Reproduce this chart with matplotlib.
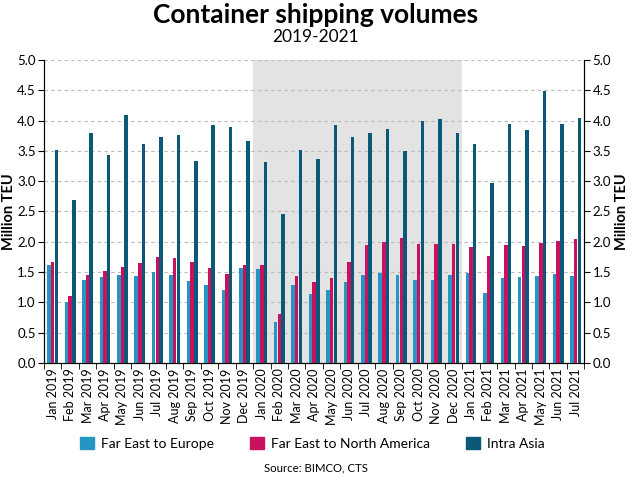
import numpy as np
import matplotlib.pyplot as plt
import matplotlib.patches as patches

plt.rcParams['font.family'] = ['Lato', 'DejaVu Sans']

months = ['Jan', 'Feb', 'Mar', 'Apr', 'May', 'Jun', 'Jul', 'Aug', 'Sep', 'Oct', 'Nov', 'Dec']
labels = [f'{m} {y}' for y in (2019, 2020) for m in months] + [f'{m} 2021' for m in months[:7]]

far_east_europe = [1.61, 1.00, 1.37, 1.42, 1.46, 1.44, 1.50, 1.45, 1.35, 1.28, 1.20, 1.56,
                   1.55, 0.67, 1.28, 1.14, 1.20, 1.33, 1.45, 1.48, 1.45, 1.37, 1.37, 1.45,
                   1.49, 1.16, 1.40, 1.42, 1.44, 1.47, 1.44]
far_east_na = [1.67, 1.11, 1.45, 1.52, 1.58, 1.65, 1.75, 1.73, 1.66, 1.57, 1.47, 1.62,
               1.62, 0.81, 1.44, 1.34, 1.40, 1.66, 1.94, 2.00, 2.06, 1.97, 1.97, 1.97,
               1.92, 1.77, 1.94, 1.93, 1.98, 2.02, 2.04]
intra_asia = [3.51, 2.69, 3.80, 3.43, 4.09, 3.61, 3.73, 3.76, 3.34, 3.93, 3.89, 3.66,
              3.31, 2.45, 3.51, 3.37, 3.92, 3.73, 3.79, 3.86, 3.49, 3.99, 4.03, 3.80,
              3.61, 2.97, 3.94, 3.85, 4.49, 3.94, 4.04]

colors = ['#2596c4', '#c8115f', '#0b5878']
names = ['Far East to Europe', 'Far East to North America', 'Intra Asia']

fig = plt.figure(figsize=(6.32, 4.78), dpi=100)
ax = fig.add_axes([0.0696, 0.2406, 0.855, 0.634])

x = np.arange(len(labels))
w = 0.2
# 2020 shading
ax.axvspan(11.5, 23.5, color='#e3e3e3', zorder=0, lw=0)

for off, vals, c in zip([-0.21, 0, 0.21], [far_east_europe, far_east_na, intra_asia], colors):
    ax.bar(x + off, vals, w, color=c, zorder=3)

yt = np.arange(0, 5.01, 0.5)
ax.set_xlim(-0.5, len(labels) - 0.5)
ax.set_ylim(0, 5)
ax.set_yticks(yt)
ax.set_yticklabels([f'{v:.1f}' for v in yt], fontsize=9.5)
ax.yaxis.grid(True, linestyle=(0, (3, 3)), color='#bbbbbb', lw=0.8, zorder=1)
ax.set_xticks(x)
ax.set_xticklabels(labels, rotation=90, fontsize=9)
ax.tick_params(axis='x', length=0, pad=4)
ax.set_xticks(np.arange(-0.5, len(labels), 1), minor=True)
ax.tick_params(axis='x', which='minor', length=4)
ax.tick_params(axis='y', length=4, pad=2)
ax.spines['top'].set_visible(False)
ax.set_ylabel('Million TEU', fontsize=10.5, fontweight='bold')
ax.yaxis.set_label_coords(-0.052, 0.5)

ax2 = ax.twinx()
ax2.set_ylim(0, 5)
ax2.set_yticks(yt)
ax2.set_yticklabels([f'{v:.1f}' for v in yt], fontsize=9.5)
ax2.spines['top'].set_visible(False)
ax2.tick_params(axis='y', length=4, pad=2)
ax2.set_ylabel('Million TEU', fontsize=10.5, fontweight='bold', rotation=90)
ax2.yaxis.set_label_coords(1.056, 0.5)

fig.text(0.5, 0.968, 'Container shipping volumes', ha='center', va='center', fontsize=19, fontweight='bold')
fig.text(0.5, 0.922, '2019-2021', ha='center', va='center', fontsize=12.5)

handles = [patches.Patch(color=c, label=n) for c, n in zip(colors, names)]
fig.legend(handles=handles, loc='center', bbox_to_anchor=(0.494, 0.073), ncol=3, frameon=False,
           fontsize=10, handlelength=1.0, handleheight=1.0, columnspacing=2.6, handletextpad=0.5)
fig.text(0.5, 0.022, 'Source: BIMCO, CTS', ha='center', va='center', fontsize=8.2)

plt.savefig('out.png', dpi=100)
